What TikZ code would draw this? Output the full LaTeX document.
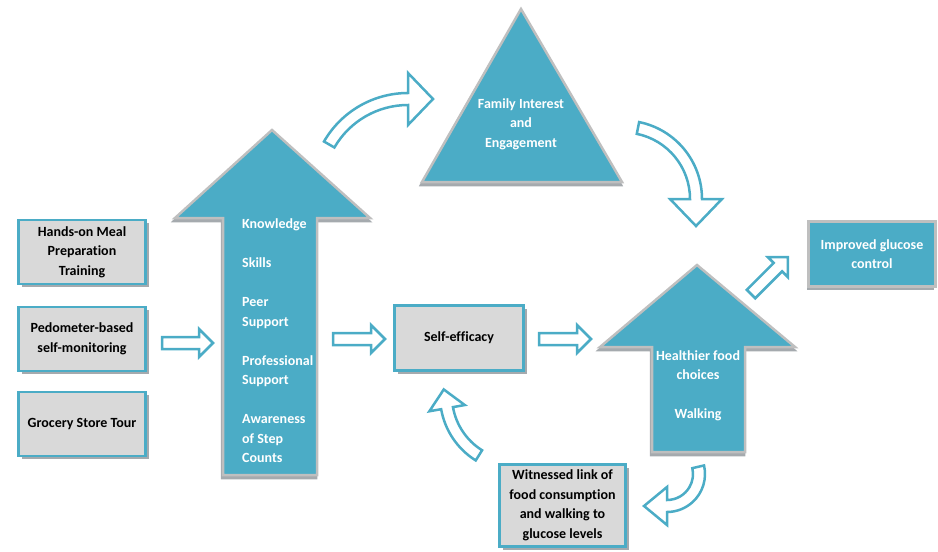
\documentclass[tikz,border=0pt]{standalone}
\usepackage{fontspec}
\setmainfont{Carlito}[Ligatures=NoCommon]
\usetikzlibrary{calc,shadows}
\definecolor{teal1}{RGB}{75,172,198}
\definecolor{boxgray}{RGB}{217,217,217}
\definecolor{edgegray}{RGB}{191,191,191}
\definecolor{shadowgray}{RGB}{165,170,174}

% hollow block arrows
\newcommand\straightarr[4]{%
  \draw[hollowarr, shift={(#1,#2)}, rotate=#3] (0,-6) -- (#4-14,-6) -- (#4-14,-14) -- (#4,0)
    -- (#4-14,14) -- (#4-14,6) -- (0,6) -- cycle;}
\newcommand\curvedarr[8]{%
  \pgfmathsetmacro\arrRo{#3+#6/2}\pgfmathsetmacro\arrRi{#3-#6/2}%
  \pgfmathsetmacro\arrHo{#3+#7/2}\pgfmathsetmacro\arrHi{#3-#7/2}%
  \pgfmathsetmacro\arrTa{#5+90}%
  \draw[hollowarr] ($(#1,#2)+(#4:\arrRo)$) arc[start angle=#4, end angle=#5, radius=\arrRo]
    -- ($(#1,#2)+(#5:\arrHo)$) -- ($(#1,#2)+(#5:#3)+(\arrTa:#8)$) -- ($(#1,#2)+(#5:\arrHi)$)
    -- ($(#1,#2)+(#5:\arrRi)$) arc[start angle=#5, end angle=#4, radius=\arrRi] -- cycle;}

\begin{document}
\begin{tikzpicture}[x=1pt, y=-1pt, font=\bfseries\fontsize{14}{19.5}\selectfont,
  graybox/.style={draw=teal1, line width=2.5pt, fill=boxgray, align=center,
    drop shadow={shadow xshift=3pt, shadow yshift=-3pt, fill=shadowgray, opacity=1}},
  bluebox/.style={draw=edgegray, line width=2.5pt, fill=teal1, text=white, align=center,
    drop shadow={shadow xshift=-2pt, shadow yshift=-3pt, fill=shadowgray, opacity=1}},
  bigshape/.style={draw=edgegray, line width=2.5pt, fill=teal1, line join=miter},
  shade/.style={fill=shadowgray, draw=shadowgray, line width=2.5pt},
  hollowarr/.style={draw=teal1, line width=2.5pt, fill=white, line join=miter},
  wlbl/.style={align=center, inner sep=0pt, text=white}]

\useasboundingbox (0,0) rectangle (938,552);

%left boxes
\node[graybox, minimum width=127, minimum height=64] (meal) at (82,252) {Hands-on Meal\\Preparation\\Training};
\node[graybox, minimum width=127, minimum height=64] (pedo) at (82,339) {Pedometer-based\\self-monitoring};
\node[graybox, minimum width=127, minimum height=64] (tour) at (82,424) {Grocery Store Tour};

%big up arrow
\draw[shade, shift={(-1,3)}] (272,130) -- (370,218) -- (317,218) -- (317,475) -- (223,475) -- (223,218) -- (175,218) -- cycle;
\draw[bigshape] (272,130) -- (370,218) -- (317,218) -- (317,475) -- (223,475) -- (223,218) -- (175,218) -- cycle;
\node[wlbl, align=left, anchor=west] (factors) at (242,341) {Knowledge\\[19.5pt]Skills\\[19.5pt]Peer\\Support\\[19.5pt]Professional\\Support\\[19.5pt]Awareness\\of Step\\Counts};

%triangle
\draw[shade, shift={(-1,3)}] (521,9) -- (622,182) -- (422,182) -- cycle;
\draw[bigshape] (521,9) -- (622,182) -- (422,182) -- cycle;
\node[wlbl] (family) at (521,124) {Family Interest\\and\\Engagement};

\node[graybox, minimum width=129, minimum height=65] (selfeff) at (459,338) {Self-efficacy};

%right up arrow
\draw[shade, shift={(-1,3)}] (697,265) -- (795,347) -- (745,347) -- (745,452) -- (652,452) -- (652,347) -- (600,347) -- cycle;
\draw[bigshape] (697,265) -- (795,347) -- (745,347) -- (745,452) -- (652,452) -- (652,347) -- (600,347) -- cycle;
\node[wlbl] (behav) at (698,386) {Healthier food\\choices\\[19.5pt]Walking};

\node[bluebox, minimum width=127, minimum height=65] (glucose) at (872,254) {Improved glucose\\control};
\node[graybox, minimum width=126, minimum height=82] (link) at (562.5,505.5) {Witnessed link of\\food consumption\\and walking to\\glucose levels};

%straight arrows
\straightarr{162}{343}{0}{51}
\straightarr{333}{339}{0}{52}
\straightarr{539}{339}{0}{52}
\straightarr{751}{294}{45}{52}

%curved arrows
\curvedarr{408}{190}{91}{-150}{-90}{12}{52}{25}
\curvedarr{623.5}{199}{72.5}{-78.5}{0}{12}{52}{27}
\curvedarr{516}{396}{70}{122}{170}{12}{36}{19}
\curvedarr{667}{474}{32}{-13}{90}{12}{38}{23}
\end{tikzpicture}
\end{document}
